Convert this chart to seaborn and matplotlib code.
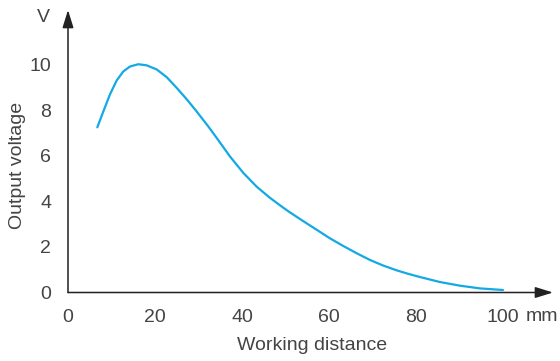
import pandas as pd
import seaborn as sns
import matplotlib.pyplot as plt

# valeurs
distance_mm = [6.74, 8.11, 9.66, 11.2, 12.7, 14.25, 16.16, 18.1, 20.4, 22.7, 25.0, 27.3,
               29.6, 32.25, 34.2, 37.2, 40.3, 43.4, 46.4, 49.5, 51.0, 54.1, 57.2,
               60.2, 63.3, 66.4, 69.4, 72.5, 75.6, 78.2, 80.9, 85.5, 90.1, 94.7, 100.0]
output_v = [7.25, 7.94, 8.70, 9.31, 9.70, 9.92, 10.02, 9.97, 9.79, 9.45, 8.98, 8.48,
            7.94, 7.29, 6.78, 5.98, 5.25, 4.64, 4.16, 3.72, 3.52, 3.13, 2.75,
            2.38, 2.04, 1.72, 1.43, 1.18, 0.97, 0.82, 0.68, 0.46, 0.30, 0.18, 0.11]

x_ticks = [0, 20, 40, 60, 80, 100]
y_ticks = [0, 2, 4, 6, 8, 10]

df = pd.DataFrame({"distance": distance_mm, "voltage": output_v})

sns.set_theme(style="white")
plt.rcParams["font.family"] = ["Liberation Sans", "DejaVu Sans"]
txt = "#444444"
axc = "#222222"

fig = plt.figure(figsize=(5.6, 3.61), dpi=100)
ax = fig.add_axes([68 / 560, 1 - 292.5 / 361, 485 / 560, 282.5 / 361])

sns.lineplot(data=df, x="distance", y="voltage", ax=ax, color="#12a9e5", lw=1.6)

ax.set_xlim(0, 111.5)
ax.set_ylim(0, 12.4)
ax.set_xticks(x_ticks)
ax.set_yticks(y_ticks)
ax.tick_params(axis="both", direction="out", length=6, width=1.1, color=axc,
               labelsize=14, labelcolor=txt, pad=6)

for s in ax.spines.values():
    s.set_visible(False)

# axes avec flèches
arr = dict(arrowstyle="-|>,head_length=0.9,head_width=0.28", lw=1.1, color=axc,
           shrinkA=0, shrinkB=0)
ax.annotate("", xy=(1, 0), xytext=(0, 0), xycoords="axes fraction", arrowprops=arr)
ax.annotate("", xy=(0, 1), xytext=(0, 0), xycoords="axes fraction", arrowprops=arr)

ax.set_xlabel("")
ax.set_ylabel("")
fig.text(312 / 560, 1 - 346 / 361, "Working distance", ha="center", va="center",
         fontsize=14, color=txt)
fig.text(18 / 560, 1 - 165 / 361, "Output voltage", ha="center", va="center",
         rotation=90, fontsize=14, color=txt)
fig.text(43 / 560, 1 - 18 / 361, "V", ha="center", va="center", fontsize=14, color=txt)
fig.text(526 / 560, 1 - 316.5 / 361, "mm", ha="left", va="center", fontsize=14, color=txt)

fig.savefig("out.png", dpi=100)
